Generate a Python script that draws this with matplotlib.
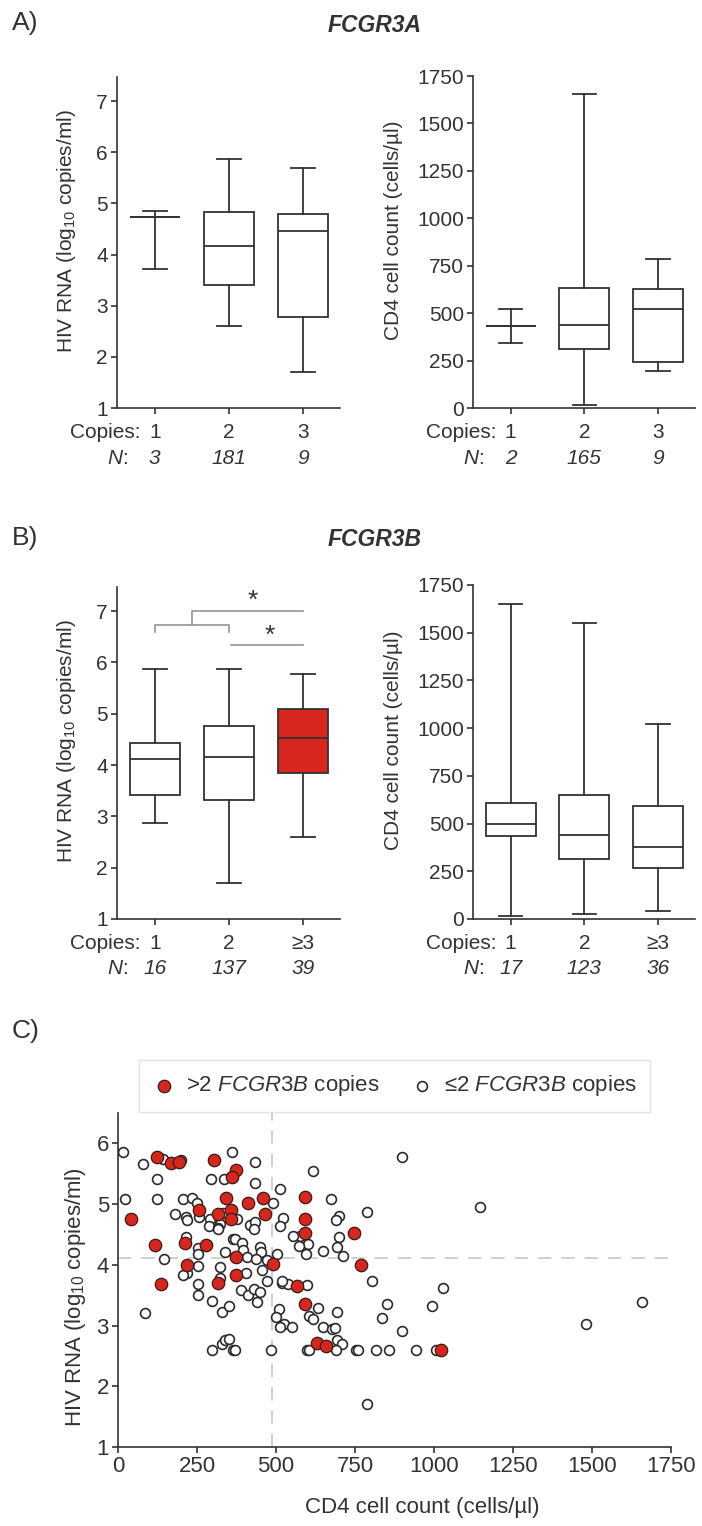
import matplotlib
matplotlib.use('Agg')
import matplotlib.pyplot as plt

plt.rcParams['font.family'] = ['Liberation Sans', 'DejaVu Sans']
plt.rcParams['mathtext.fontset'] = 'custom'
plt.rcParams['mathtext.rm'] = 'Liberation Sans'
plt.rcParams['mathtext.it'] = 'Liberation Sans:italic'
plt.rcParams['mathtext.bf'] = 'Liberation Sans:bold'

INK = '#333333'
RED = '#d7261e'
GRID = '#c8c8c8'
FS = 15      # box panel text
FS_C = 16    # scatter panel text

# --- Data ---
positions = [1, 2, 3]
copies_a = ['1', '2', '3']
copies_b = ['1', '2', '≥3']
n_a_hiv = ['3', '181', '9']
n_a_cd4 = ['2', '165', '9']
n_b_hiv = ['16', '137', '39']
n_b_cd4 = ['17', '123', '36']

# box stats (whisker low, q1, median, q3, whisker high) per copy-number group
a_hiv_lo = [3.72, 2.60, 1.70]
a_hiv_q1 = [4.74, 3.40, 2.77]
a_hiv_med = [4.74, 4.17, 4.46]
a_hiv_q3 = [4.74, 4.84, 4.79]
a_hiv_hi = [4.85, 5.87, 5.69]

a_cd4_lo = [340, 15, 195]
a_cd4_q1 = [430, 310, 245]
a_cd4_med = [430, 440, 520]
a_cd4_q3 = [430, 635, 628]
a_cd4_hi = [520, 1655, 785]

b_hiv_lo = [2.87, 1.71, 2.60]
b_hiv_q1 = [3.41, 3.32, 3.85]
b_hiv_med = [4.12, 4.16, 4.53]
b_hiv_q3 = [4.43, 4.77, 5.10]
b_hiv_hi = [5.88, 5.88, 5.78]

b_cd4_lo = [16, 26, 42]
b_cd4_q1 = [435, 313, 267]
b_cd4_med = [500, 440, 376]
b_cd4_q3 = [610, 648, 590]
b_cd4_hi = [1651, 1550, 1022]

b_hiv_fill = ['white', 'white', RED]

# scatter: >2 FCGR3B copies
hi_cd4 = [122, 168, 194, 304, 373, 360, 342, 412, 458, 591, 40, 257, 315, 357,
          357, 464, 592, 591, 747, 116, 211, 279, 373, 490, 219, 373, 135, 316,
          566, 591, 768, 629, 658, 1023]
hi_rna = [5.78, 5.67, 5.69, 5.72, 5.56, 5.44, 5.10, 5.02, 5.10, 5.11, 4.76, 4.90,
          4.83, 4.90, 4.76, 4.84, 4.76, 4.53, 4.53, 4.32, 4.36, 4.32, 4.13, 4.01,
          3.99, 3.84, 3.69, 3.70, 3.65, 3.36, 3.99, 2.72, 2.67, 2.60]

# scatter: <=2 FCGR3B copies
lo_cd4 = [15, 78, 143, 200, 361, 435, 335, 293, 124, 435, 513, 21, 124, 205, 234,
          251, 492, 181, 215, 219, 256, 291, 331, 376, 323, 287, 315, 318, 418,
          432, 430, 521, 512, 576, 600, 596, 215, 254, 252, 340, 364, 370, 393,
          397, 450, 452, 407, 438, 470, 502, 146, 219, 205, 254, 323, 404, 456,
          323, 252, 253, 297, 84, 329, 350, 390, 412, 430, 450, 440, 472, 520,
          539, 518, 511, 500, 524, 514, 550, 606, 297, 329, 340, 350, 365, 371,
          484, 597, 899, 618, 673, 698, 690, 787, 1146, 698, 693, 648, 713, 804,
          599, 1028, 850, 994, 834, 899, 1481, 1657, 692, 616, 634, 650, 676,
          687, 555, 574, 692, 708, 605, 690, 753, 760, 817, 859, 944, 1005, 789]
lo_rna = [5.86, 5.66, 5.75, 5.72, 5.86, 5.69, 5.41, 5.41, 5.42, 5.34, 5.25, 5.09,
          5.09, 5.08, 5.10, 5.02, 5.01, 4.83, 4.79, 4.74, 4.78, 4.76, 4.86, 4.75,
          4.68, 4.64, 4.61, 4.59, 4.66, 4.70, 4.59, 4.77, 4.64, 4.48, 4.34, 4.18,
          4.45, 4.28, 4.18, 4.21, 4.42, 4.42, 4.36, 4.24, 4.30, 4.21, 4.13, 4.09,
          4.08, 4.18, 4.09, 3.86, 3.84, 3.98, 3.97, 3.86, 3.91, 3.79, 3.69, 3.50,
          3.40, 3.21, 3.23, 3.32, 3.59, 3.51, 3.60, 3.56, 3.39, 3.73, 3.70, 3.69,
          3.73, 3.28, 3.14, 3.03, 2.97, 2.98, 3.15, 2.60, 2.70, 2.77, 2.78, 2.60,
          2.60, 2.60, 2.60, 5.78, 5.55, 5.08, 4.80, 4.74, 4.87, 4.96, 4.46, 4.30,
          4.23, 4.14, 3.73, 3.67, 3.62, 3.36, 3.33, 3.13, 2.91, 3.02, 3.38, 3.22,
          3.11, 3.29, 2.97, 2.94, 2.96, 4.47, 4.31, 2.76, 2.70, 2.60, 2.60, 2.60,
          2.60, 2.60, 2.60, 2.60, 2.60, 1.70]

median_cd4 = 487
median_rna = 4.11

# --- Figure ---
fig = plt.figure(figsize=(7.02, 15.26), dpi=100)
W, H = 702, 1526


def px_axes(left, top, right, bottom):
    return fig.add_axes([left / W, 1 - bottom / H, (right - left) / W, (bottom - top) / H])


def style(ax, fs):
    for s in ['top', 'right']:
        ax.spines[s].set_visible(False)
    for s in ['left', 'bottom']:
        ax.spines[s].set_linewidth(1.2)
        ax.spines[s].set_color(INK)
    ax.tick_params(direction='out', length=4, width=1.2, colors=INK,
                   labelsize=fs, labelcolor=INK, pad=2.5)


def boxes(ax, lo, q1, med, q3, hi, fills=None):
    stats = []
    for i in range(len(lo)):
        stats.append(dict(whislo=lo[i], q1=q1[i], med=med[i], q3=q3[i], whishi=hi[i]))
    lw = 1.3
    bp = ax.bxp(stats, positions=positions, widths=0.68, capwidths=0.32,
                showfliers=False, patch_artist=True,
                boxprops=dict(edgecolor=INK, linewidth=lw),
                medianprops=dict(color=INK, linewidth=lw),
                whiskerprops=dict(color=INK, linewidth=lw),
                capprops=dict(color=INK, linewidth=lw))
    for i, patch in enumerate(bp['boxes']):
        patch.set_facecolor(fills[i] if fills else 'white')
    ax.set_xlim(0.49, 3.5)


def group_labels(ax, copies, ns):
    ax.set_xticks(positions)
    ax.set_xticklabels([])
    for p, c, n in zip(positions, copies, ns):
        ax.annotate(c, (p, 0), xycoords=('data', 'axes fraction'), xytext=(0, -17.5),
                    textcoords='offset points', ha='center', va='center',
                    fontsize=FS, color=INK)
        ax.annotate(n, (p, 0), xycoords=('data', 'axes fraction'), xytext=(0, -36),
                    textcoords='offset points', ha='center', va='center',
                    fontsize=FS, color=INK, style='italic')
    ax.annotate('Copies:', (positions[0] - 0.19, 0), xycoords=('data', 'axes fraction'),
                xytext=(0, -17.5), textcoords='offset points', ha='right', va='center',
                fontsize=FS, color=INK)
    ax.annotate(r'$\mathit{N}$:', (positions[0] - 0.36, 0), xycoords=('data', 'axes fraction'),
                xytext=(0, -36), textcoords='offset points', ha='right', va='center',
                fontsize=FS, color=INK)


hiv_label = r'HIV RNA (log$_{10}$ copies/ml)'
cd4_label = 'CD4 cell count (cells/µl)'

# --- A) FCGR3A ---
ax1 = px_axes(117, 77, 340, 408)
style(ax1, FS)
boxes(ax1, a_hiv_lo, a_hiv_q1, a_hiv_med, a_hiv_q3, a_hiv_hi)
ax1.set_ylim(1, 7.47)
ax1.set_yticks(range(1, 8))
ax1.set_ylabel(hiv_label, fontsize=FS, color=INK)
ax1.yaxis.set_label_coords(-0.175, 0.535)
group_labels(ax1, copies_a, n_a_hiv)

ax2 = px_axes(473, 76, 695, 408)
style(ax2, FS)
boxes(ax2, a_cd4_lo, a_cd4_q1, a_cd4_med, a_cd4_q3, a_cd4_hi)
ax2.set_ylim(0, 1750)
ax2.set_yticks(range(0, 1751, 250))
ax2.set_ylabel(cd4_label, fontsize=FS, color=INK)
ax2.yaxis.set_label_coords(-0.315, 0.535)
group_labels(ax2, copies_a, n_a_cd4)

fig.text(12 / W, 1 - 23 / H, 'A)', fontsize=19, color=INK, ha='left', va='center')
fig.text(375 / W, 1 - 25 / H, 'FCGR3A', fontsize=16.5, color=INK, ha='center',
         va='center', fontweight='bold', style='italic')

# --- B) FCGR3B ---
ax3 = px_axes(117, 587, 340, 919)
style(ax3, FS)
boxes(ax3, b_hiv_lo, b_hiv_q1, b_hiv_med, b_hiv_q3, b_hiv_hi, fills=b_hiv_fill)
ax3.set_ylim(1, 7.47)
ax3.set_yticks(range(1, 8))
ax3.set_ylabel(hiv_label, fontsize=FS, color=INK)
ax3.yaxis.set_label_coords(-0.175, 0.535)
group_labels(ax3, copies_b, n_b_hiv)

# significance brackets
bc = '#8a8a8a'
ax3.plot([1, 1, 2, 2], [6.6, 6.72, 6.72, 6.6], color=bc, lw=1.1)
ax3.plot([1.5, 1.5, 3.0], [6.72, 7.0, 7.0], color=bc, lw=1.1)
ax3.plot([2.03, 3.0], [6.33, 6.33], color=bc, lw=1.1)
ax3.text(2.32, 6.97, '*', fontsize=19, color=INK, ha='center', va='bottom')
ax3.text(2.55, 6.28, '*', fontsize=19, color=INK, ha='center', va='bottom')

ax4 = px_axes(473, 585, 695, 919)
style(ax4, FS)
boxes(ax4, b_cd4_lo, b_cd4_q1, b_cd4_med, b_cd4_q3, b_cd4_hi)
ax4.set_ylim(0, 1750)
ax4.set_yticks(range(0, 1751, 250))
ax4.set_ylabel(cd4_label, fontsize=FS, color=INK)
ax4.yaxis.set_label_coords(-0.315, 0.535)
group_labels(ax4, copies_b, n_b_cd4)

fig.text(12 / W, 1 - 538 / H, 'B)', fontsize=19, color=INK, ha='left', va='center')
fig.text(375 / W, 1 - 540 / H, 'FCGR3B', fontsize=16.5, color=INK, ha='center',
         va='center', fontweight='bold', style='italic')

# --- C) scatter ---
ax5 = px_axes(118, 1113, 671, 1447)
style(ax5, FS_C)
ax5.axhline(median_rna, color=GRID, lw=1.2, dashes=(8, 6), zorder=1)
ax5.axvline(median_cd4, color=GRID, lw=1.2, dashes=(8, 6), zorder=1)
ax5.scatter(lo_cd4, lo_rna, s=50, facecolor='white', edgecolor='#2b2b2b',
            linewidths=1.2, zorder=2, label='≤2 $\\mathit{FCGR3B}$ copies')
ax5.scatter(hi_cd4, hi_rna, s=80, facecolor=RED, edgecolor='#3a1a18',
            linewidths=0.9, zorder=3, label=r'>2 $\mathit{FCGR3B}$ copies')
ax5.set_xlim(0, 1750)
ax5.set_ylim(1, 6.5)
ax5.set_xticks(range(0, 1751, 250))
ax5.set_yticks(range(1, 7))
ax5.set_xlabel(cd4_label, fontsize=FS_C, color=INK)
ax5.xaxis.set_label_coords(0.55, -0.15)
ax5.set_ylabel(hiv_label, fontsize=FS_C, color=INK)
ax5.yaxis.set_label_coords(-0.055, 0.45)

handles, labels = ax5.get_legend_handles_labels()
leg = fig.legend(handles[::-1], labels[::-1], loc='center', ncol=2,
                 bbox_to_anchor=((137 + 652) / 2 / W, 1 - 1086 / H),
                 fontsize=FS_C, frameon=True, fancybox=False, borderpad=0.6,
                 handlelength=1.0, handletextpad=0.5, columnspacing=1.4)
leg.get_frame().set_edgecolor('#dddddd')
leg.get_frame().set_linewidth(1.0)
for t in leg.get_texts():
    t.set_color(INK)

fig.text(12 / W, 1 - 1031 / H, 'C)', fontsize=19, color=INK, ha='left', va='center')

fig.savefig('out.png', dpi=100)
